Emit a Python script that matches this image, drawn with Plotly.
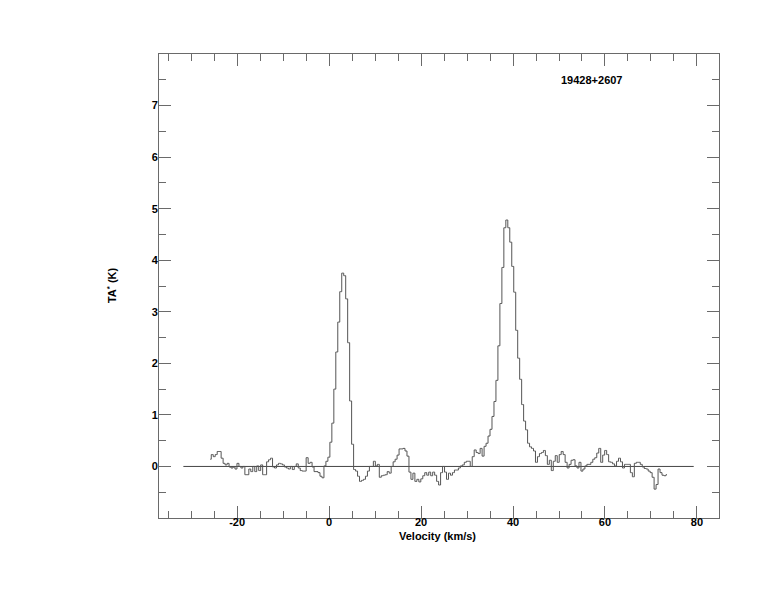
import plotly.graph_objects as go

# ---------------- data ----------------
SOURCE_NAME = "19428+2607"
V_FIRST = -25.85     # centre velocity of first channel (km/s)
DV = 0.43            # channel width (km/s)

TA = [
    0.14, 0.23, 0.19, 0.23, 0.29, 0.29, 0.16, 0.06, 0.03, 0.06,
    -0.01, -0.03, -0.01, -0.05, 0.06, 0.0, -0.03, 0.0, -0.16, -0.16,
    -0.05, -0.10, 0.0, -0.10, 0.01, -0.08, 0.03, -0.16, -0.16, 0.09,
    0.13, 0.16, -0.01, -0.03, 0.03, 0.06, 0.05, 0.03, -0.01, -0.03,
    -0.05, 0.0, -0.06, 0.0, 0.05, -0.03, -0.08, -0.09, -0.09, 0.17,
    0.06, 0.08, -0.01, -0.10, -0.10, -0.12, -0.19, -0.22,
    0.01, 0.10, 0.18,
    0.47, 0.84, 1.50, 2.22, 2.80, 3.39, 3.75, 3.70, 3.25, 2.40, 1.27, 0.43,
    -0.06, -0.09, -0.19, -0.29, -0.27, -0.25, -0.19, -0.09, 0.0, 0.0,
    0.10, 0.01, 0.04, -0.21, -0.18, -0.17, -0.16, -0.10, -0.13, 0.0,
    0.09, 0.14, 0.22, 0.34, 0.34, 0.35, 0.30, 0.20,
    -0.11, -0.25, -0.13, -0.29, -0.25, -0.30, -0.24, -0.18, -0.12, -0.17,
    -0.11, -0.18, -0.11, -0.17, -0.29, -0.36,
    -0.12, 0.0, -0.11, -0.25, -0.13, -0.17, -0.12, -0.07, -0.07, -0.03,
    0.01, 0.03, 0.08, 0.10, 0.10, 0.0, 0.19, 0.32, 0.27, 0.25,
    0.35, 0.20, 0.39, 0.45, 0.59, 0.72,
    0.97, 1.26, 1.67, 2.34, 3.16, 3.86, 4.63, 4.78,
    4.63, 4.35, 3.88, 3.38, 2.64, 2.10, 1.69, 1.20, 0.88, 0.71,
    0.45, 0.38, 0.35, 0.30, 0.08, 0.19, 0.25, 0.27, 0.31, 0.21,
    0.04, 0.12, -0.08, 0.10, 0.21, 0.08, 0.23, 0.29, 0.23, 0.08,
    -0.03, 0.04, 0.12, 0.13, 0.01, -0.03, 0.08, -0.09, -0.05, 0.01,
    0.04, 0.04, 0.08, 0.14, 0.17, 0.26, 0.35, 0.08, 0.22, 0.31,
    0.23, 0.09, 0.08, 0.05, 0.01, 0.10, 0.16, 0.09, -0.03, 0.04,
    0.04, 0.04, -0.12, -0.20, 0.06, 0.08, 0.08, 0.04, -0.01, -0.04,
    -0.05, -0.09, -0.12, -0.21, -0.44, -0.35, -0.05, -0.12, -0.17, -0.18,
    -0.16,
]
VELOCITY = [V_FIRST + i * DV for i in range(len(TA))]

BASELINE_V = [-31.7, 79.3]
BASELINE_T = [0.0, 0.0]

X_RANGE = [-37.0, 84.8]
Y_RANGE = [-1.0, 8.0]
X_TICKS = [-20, 0, 20, 40, 60, 80]
Y_TICKS = [0, 1, 2, 3, 4, 5, 6, 7]

# ---------------- figure ----------------
FONT = "Liberation Sans, Arial, sans-serif"
LINE = "#555555"
AXC = "#6a6a6a"

fig = go.Figure()
fig.add_trace(go.Scatter(x=BASELINE_V, y=BASELINE_T, mode="lines",
                         line=dict(color="#444444", width=1), hoverinfo="skip",
                         showlegend=False))
fig.add_trace(go.Scatter(x=VELOCITY, y=TA, mode="lines",
                         line=dict(color=LINE, width=1, shape="hvh"),
                         showlegend=False))

axis_common = dict(showgrid=False, zeroline=False, showline=True, linecolor=AXC,
                   linewidth=1, mirror="ticks", ticks="inside", tickcolor=AXC,
                   tickwidth=1, ticklen=12, tickmode="array",
                   tickfont=dict(family=FONT, size=11, color="#000000", weight="bold"))

fig.update_xaxes(range=X_RANGE, tickvals=X_TICKS, ticktext=[str(t) for t in X_TICKS],
                 ticklabelstandoff=-6,
                 minor=dict(dtick=5, tick0=0, ticks="inside", ticklen=7,
                            tickcolor=AXC, tickwidth=1),
                 **axis_common)
fig.update_yaxes(range=Y_RANGE, tickvals=Y_TICKS, ticktext=[str(t) for t in Y_TICKS],
                 ticklabelstandoff=-2,
                 minor=dict(dtick=0.5, tick0=0, ticks="inside", ticklen=7,
                            tickcolor=AXC, tickwidth=1),
                 **axis_common)

fig.update_layout(
    width=766, height=604,
    margin=dict(l=151, r=55, t=46, b=94),
    paper_bgcolor="white", plot_bgcolor="white",
    font=dict(family=FONT, size=11, color="#000000"),
    annotations=[
        dict(text="<b>" + SOURCE_NAME + "</b>", xref="paper", yref="paper",
             x=0.772, y=0.944, xanchor="center", yanchor="middle",
             showarrow=False, font=dict(size=11)),
        dict(text="<b>Velocity (km/s)</b>", xref="paper", yref="paper",
             x=0.497, y=-0.039, xanchor="center", yanchor="middle",
             showarrow=False, font=dict(size=11)),
        dict(text="<b>TA<sup>*</sup> (K)</b>", xref="paper", yref="paper",
             x=-0.084, y=0.502, xanchor="center", yanchor="middle",
             showarrow=False, textangle=-90, font=dict(size=11)),
    ],
)

fig.write_html("out.html")
